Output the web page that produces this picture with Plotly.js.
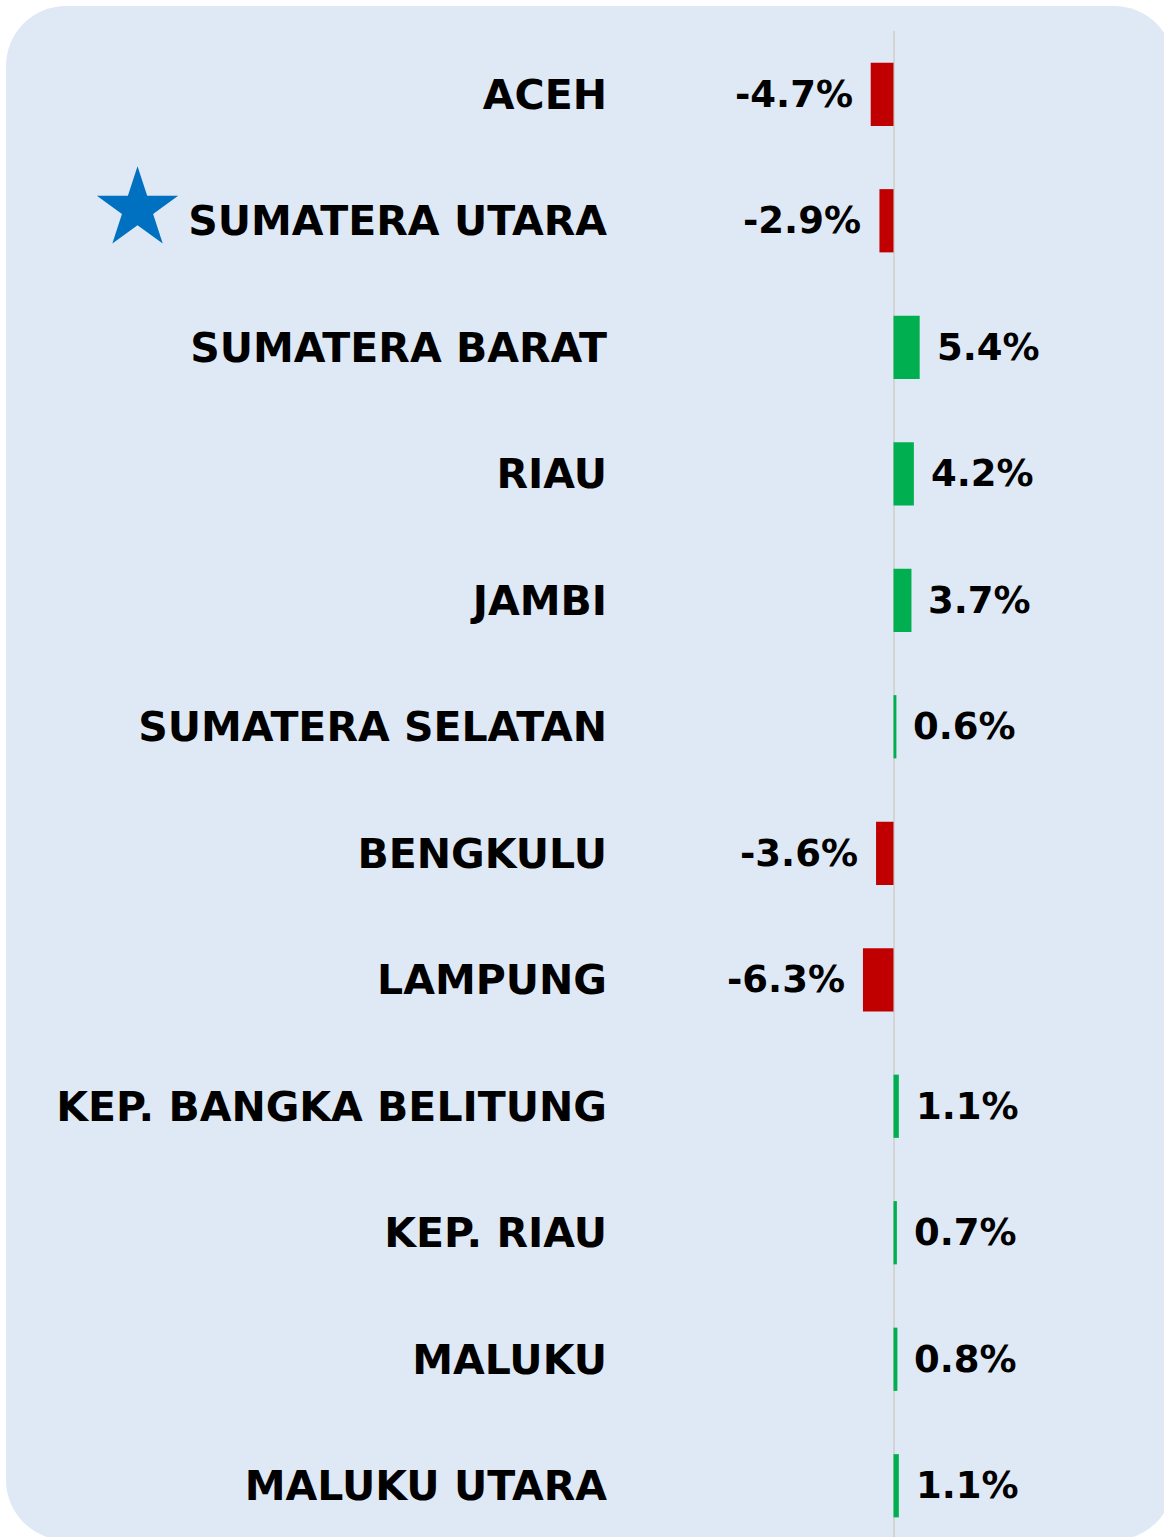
<!DOCTYPE html>
<html>
<head>
<meta charset="utf-8">
<script src="https://cdn.plot.ly/plotly-3.0.1.min.js"></script>
<style>
  html, body { margin: 0; padding: 0; width: 1164px; height: 1537px; overflow: hidden; background: #ffffff; }
  #panel { position: absolute; left: 6px; top: 6px; width: 1168px; height: 1534px; border-radius: 60px; background: #dfe9f5; }
  #chart { position: absolute; left: 0; top: 0; width: 1164px; height: 1560px; }
</style>
</head>
<body>
<div id="panel"></div>
<div id="chart"></div>
<script>
const regions = ["ACEH", "SUMATERA UTARA", "SUMATERA BARAT", "RIAU", "JAMBI", "SUMATERA SELATAN",
                 "BENGKULU", "LAMPUNG", "KEP. BANGKA BELITUNG", "KEP. RIAU", "MALUKU", "MALUKU UTARA"];
const growth = [-4.7, -2.9, 5.4, 4.2, 3.7, 0.6, -3.6, -6.3, 1.1, 0.7, 0.8, 1.1];
const highlighted = "SUMATERA UTARA";

const negColor = "#c00000";
const posColor = "#00b050";
const fontFam = "DejaVu Sans";

const bar = {
  type: "bar",
  orientation: "h",
  x: growth,
  y: regions,
  width: 0.5,
  marker: { color: growth.map(v => v < 0 ? negColor : posColor), line: { width: 0 } },
  hoverinfo: "skip"
};

const annotations = growth.map((v, i) => ({
  x: v, y: regions[i], xref: "x", yref: "y",
  text: v.toFixed(1) + "%",
  showarrow: false,
  xanchor: v < 0 ? "right" : "left",
  xshift: v < 0 ? -16 : 15,
  font: { family: fontFam, size: 37, weight: "bold", color: "#000000" }
}));

annotations.push({
  x: 0, y: highlighted, xref: "paper", yref: "y",
  text: "★", showarrow: false,
  xanchor: "center", yanchor: "middle",
  xshift: -483, yshift: 14,
  font: { family: fontFam, size: 106, color: "#0070c0" }
});

const layout = {
  width: 1164,
  height: 1560,
  margin: { l: 620, r: 0, t: 31, b: 11 },
  paper_bgcolor: "rgba(0,0,0,0)",
  plot_bgcolor: "rgba(0,0,0,0)",
  showlegend: false,
  bargap: 0.5,
  xaxis: {
    range: [-56.39, 55.77],
    showgrid: false,
    showticklabels: false,
    zeroline: true,
    zerolinecolor: "#d4d4d4",
    zerolinewidth: 2,
    fixedrange: true
  },
  yaxis: {
    type: "category",
    categoryorder: "array",
    categoryarray: regions,
    autorange: "reversed",
    showgrid: false,
    zeroline: false,
    ticks: "",
    ticklabelstandoff: 12,
    tickfont: { family: fontFam, size: 41, weight: "bold", color: "#000000" },
    fixedrange: true
  },
  annotations: annotations
};

Plotly.newPlot("chart", [bar], layout, { displayModeBar: false, staticPlot: true });
</script>
</body>
</html>
